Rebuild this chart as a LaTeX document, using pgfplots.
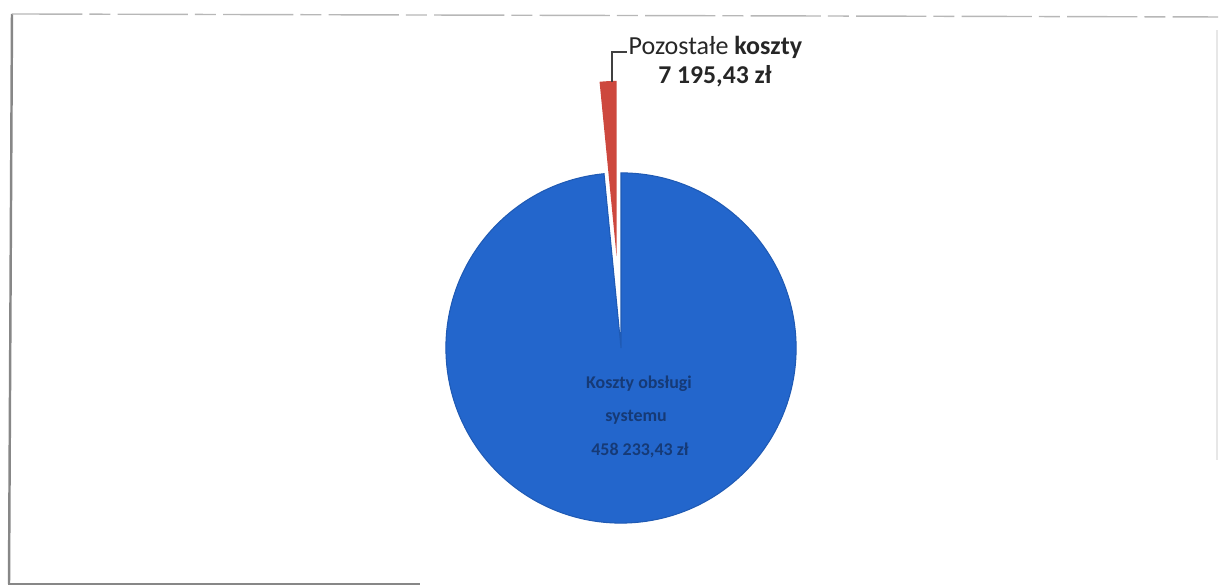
\documentclass[border=0pt]{standalone}
\usepackage{pgfplots}
\pgfplotsset{compat=1.18}
\usepackage{pgfplotstable}
\usepackage{fontspec}
\setmainfont{Carlito}
\definecolor{pieblue}{RGB}{35,102,204}
\definecolor{piered}{RGB}{205,72,62}
\definecolor{lbl}{RGB}{22,58,118}
\definecolor{frm}{RGB}{135,135,135}
\pgfplotstableread[col sep=comma]{
label,value
Koszty obsługi systemu,458233.43
Pozostałe koszty,7195.43
}\piedata
\begin{document}
\begin{tikzpicture}
\pgfplotstablegetelem{0}{value}\of\piedata \edef\va{\pgfplotsretval}
\pgfplotstablegetelem{1}{value}\of\piedata \edef\vb{\pgfplotsretval}
\edef\rEnd{\fpeval{90+360*\vb/(\va+\vb)}}
\edef\bis{\fpeval{90+180*\vb/(\va+\vb)}}
\begin{axis}[
  x=0.01cm, y=0.01cm, scale only axis,
  xmin=0, xmax=1220, ymin=-586, ymax=0,
  hide axis, clip=false,
]
\path (axis cs:0,0) rectangle (axis cs:1220,-586);
% frame
\draw[frm, line width=0.7pt] (axis cs:12,-14) -- (axis cs:9,-584);
\draw[frm, line width=0.6pt] (axis cs:8,-584) -- (axis cs:420,-584);
\draw[frm!60, line width=0.4pt, dash pattern=on 20pt off 2pt on 6pt off 2pt] (axis cs:12,-14) -- (axis cs:1218,-17);
\draw[frm!20, line width=0.4pt] (axis cs:1217,-30) -- (axis cs:1217,-460);
% pie slices
\fill[pieblue, draw=pieblue!88!black, line width=0.3pt] (axis cs:621,-348) -- ++(\rEnd:1.75cm) arc[start angle=\rEnd, end angle=450, radius=1.75cm] -- cycle;
\fill[piered] (axis cs:621,-348) ++(\bis:0.92cm) -- ++(90:1.75cm) arc[start angle=90, end angle=\rEnd, radius=1.75cm] -- cycle;
% leader line
\draw[black!75, line width=0.45pt] (axis cs:612,-82) -- (axis cs:612,-52) -- (axis cs:627,-52);
% labels
\node[anchor=west, inner sep=0pt, font=\fontsize{7.4}{8.8}\selectfont, text=black!85] at (axis cs:628,-47) {Pozostałe \textbf{koszty}};
\node[inner sep=0pt, font=\fontsize{7.3}{8.8}\selectfont\bfseries, text=black!85] at (axis cs:715,-76) {7 195,43 zł};
\node[inner sep=0pt, font=\fontsize{5.1}{6.2}\selectfont\bfseries, text=lbl] at (axis cs:639,-384) {Koszty obsługi};
\node[inner sep=0pt, font=\fontsize{5.1}{6.2}\selectfont\bfseries, text=lbl] at (axis cs:636,-417) {systemu};
\node[inner sep=0pt, font=\fontsize{5.1}{6.2}\selectfont\bfseries, text=lbl] at (axis cs:640,-450) {458 233,43 zł};
\end{axis}
\end{tikzpicture}
\end{document}
